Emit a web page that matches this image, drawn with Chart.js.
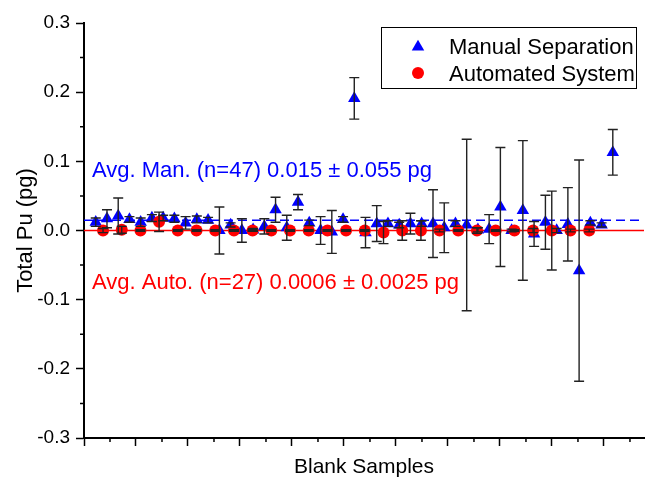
<!DOCTYPE html>
<html>
<head>
<meta charset="utf-8">
<title>Total Pu in blank samples</title>
<script src="https://cdn.jsdelivr.net/npm/chart.js@4.4.1/dist/chart.umd.min.js"></script>
<style>
  html, body { margin: 0; padding: 0; background: #fff; }
  #wrap { width: 645px; height: 478px; }
</style>
</head>
<body>
<div id="wrap"><canvas id="chart" width="645" height="478"></canvas></div>
<script>
// Manual separation blanks (blue triangles)
const manualX = [1.13, 2.21, 3.29, 4.37, 5.45, 6.53, 7.61, 8.69, 9.77, 10.85,
  11.93, 13.02, 14.10, 15.18, 16.26, 17.34, 18.42, 19.50, 20.58, 21.66,
  22.75, 23.83, 24.91, 25.99, 27.07, 28.15, 29.23, 30.31, 31.39, 32.47,
  33.56, 34.64, 35.72, 36.80, 37.88, 38.96, 40.04, 41.12, 42.20, 43.28,
  44.37, 45.45, 46.53, 47.61, 48.69, 49.77, 50.85];
const manualVals = [0.012, 0.017, 0.021, 0.016, 0.012, 0.018, 0.018, 0.017, 0.011, 0.016,
  0.015, 0.000, 0.008, 0.000, 0.001, 0.006, 0.030, 0.004, 0.041, 0.011,
  0.000, -0.002, 0.016, 0.191, -0.003, 0.010, 0.010, 0.008, 0.010, 0.010,
  0.010, 0.004, 0.010, 0.008, 0.001, 0.002, 0.034, 0.000, 0.029, -0.005,
  0.012, 0.000, 0.009, -0.058, 0.011, 0.008, 0.113];
const manualErr = [0.006, 0.013, 0.026, 0.004, 0.006, 0.005, 0.004, 0.005, 0.009, 0.005,
  0.004, 0.034, 0.003, 0.017, 0.002, 0.011, 0.018, 0.018, 0.011, 0.004,
  0.020, 0.031, 0.004, 0.030, 0.022, 0.026, 0.004, 0.004, 0.015, 0.004,
  0.049, 0.036, 0.004, 0.124, 0.003, 0.021, 0.086, 0.002, 0.101, 0.018,
  0.039, 0.003, 0.053, 0.160, 0.003, 0.003, 0.033];

// Automated system blanks (red circles)
const autoX = [1.83, 3.63, 5.43, 7.22, 9.02, 10.82, 12.62, 14.42, 16.21, 18.01,
  19.81, 21.61, 23.41, 25.20, 27.00, 28.80, 30.60, 32.40, 34.19, 35.99,
  37.79, 39.59, 41.39, 43.18, 44.98, 46.78, 48.58];
const autoVals = [0.000, 0.001, 0.000, 0.0125, 0.000, 0.000, 0.000, 0.000, 0.000, 0.000,
  0.000, 0.000, 0.000, 0.000, 0.000, -0.003, 0.000, 0.000, 0.000, 0.000,
  0.000, 0.000, 0.000, 0.000, 0.000, 0.000, 0.000];
const autoErr = [0.003, 0.005, 0.001, 0.014, 0.001, 0.001, 0.001, 0.001, 0.001, 0.001,
  0.001, 0.001, 0.001, 0.001, 0.001, 0.016, 0.014, 0.014, 0.002, 0.001,
  0.004, 0.001, 0.001, 0.003, 0.057, 0.002, 0.002];

const avgManual = 0.015;
const avgAuto = 0.0006;
const xRange = [0, 53.85];
const yRange = [-0.3, 0.3];
const xTickStep = 5;
const yTickStep = 0.1;

const legendLabels = ['Manual Separation', 'Automated System'];
const noteManual = 'Avg. Man. (n=47) 0.015 \u00b1 0.055 pg';
const noteAuto = 'Avg. Auto. (n=27) 0.0006 \u00b1 0.0025 pg';
const yTitle = 'Total Pu (pg)';
const xTitle = 'Blank Samples';

const FONT = '"Liberation Sans", Arial, sans-serif';
const BLUE = '#0000ff';
const RED = '#ff0000';
const TRI_R = 7.2;
const DOT_R = 6;

function triangle(ctx, x, y, r) {
  ctx.beginPath();
  ctx.moveTo(x, y - r);
  ctx.lineTo(x + r * 0.866, y + r * 0.5);
  ctx.lineTo(x - r * 0.866, y + r * 0.5);
  ctx.closePath();
  ctx.fill();
}

// short ticks half way between the major ones
const minorTicks = {
  id: 'minorTicks',
  afterDraw(chart) {
    const { ctx, chartArea, scales: { x, y } } = chart;
    ctx.save();
    ctx.strokeStyle = '#000';
    ctx.lineWidth = 1.5;
    ctx.beginPath();
    for (let v = yRange[0] + yTickStep / 2; v < yRange[1]; v += yTickStep) {
      const py = y.getPixelForValue(v);
      ctx.moveTo(chartArea.left - 4, py);
      ctx.lineTo(chartArea.left, py);
    }
    for (let v = xRange[0] + xTickStep / 2; v < xRange[1]; v += xTickStep) {
      const px = x.getPixelForValue(v);
      ctx.moveTo(px, chartArea.bottom);
      ctx.lineTo(px, chartArea.bottom + 4);
    }
    ctx.stroke();
    ctx.restore();
  }
};

const errorBars = {
  id: 'errorBars',
  afterDatasetsDraw(chart) {
    const { ctx, scales: { x, y } } = chart;
    ctx.save();
    ctx.strokeStyle = '#222';
    ctx.lineWidth = 1.4;
    [[manualX, manualVals, manualErr], [autoX, autoVals, autoErr]].forEach(([xs, vals, errs]) => {
      xs.forEach((xv, i) => {
        const px = x.getPixelForValue(xv);
        const top = y.getPixelForValue(vals[i] + errs[i]);
        const bot = y.getPixelForValue(vals[i] - errs[i]);
        ctx.beginPath();
        ctx.moveTo(px, top); ctx.lineTo(px, bot);
        ctx.moveTo(px - 5, top); ctx.lineTo(px + 5, top);
        ctx.moveTo(px - 5, bot); ctx.lineTo(px + 5, bot);
        ctx.stroke();
      });
    });
    ctx.restore();
  }
};

const labels = {
  id: 'labels',
  afterDraw(chart) {
    const { ctx, chartArea } = chart;
    ctx.save();
    ctx.textBaseline = 'alphabetic';
    ctx.textAlign = 'left';

    // notes with the averages
    ctx.font = '22px ' + FONT;
    ctx.fillStyle = BLUE;
    ctx.fillText(noteManual, 92, 177);
    ctx.fillStyle = RED;
    ctx.fillText(noteAuto, 92, 289);

    // legend box
    ctx.strokeStyle = '#000';
    ctx.lineWidth = 1;
    ctx.strokeRect(381.5, 27.5, 255, 61);
    ctx.fillStyle = BLUE;
    triangle(ctx, 418, 47, TRI_R);
    ctx.fillStyle = RED;
    ctx.beginPath();
    ctx.arc(418, 73, DOT_R, 0, Math.PI * 2);
    ctx.fill();
    ctx.fillStyle = '#000';
    ctx.fillText(legendLabels[0], 449, 54);
    ctx.fillText(legendLabels[1], 449, 81);

    // axis titles, centred on their axes
    ctx.font = '21px ' + FONT;
    ctx.textAlign = 'center';
    ctx.fillText(xTitle, (chartArea.left + chartArea.right) / 2, 473);
    ctx.translate(32, (chartArea.top + chartArea.bottom) / 2);
    ctx.rotate(-Math.PI / 2);
    ctx.font = '22px ' + FONT;
    ctx.fillText(yTitle, 0, 0);
    ctx.restore();
  }
};

const lineEnds = v => [{ x: xRange[0], y: v }, { x: xRange[1], y: v }];

new Chart(document.getElementById('chart'), {
  type: 'scatter',
  data: {
    datasets: [
      {
        label: legendLabels[1],
        data: autoX.map((x, i) => ({ x: x, y: autoVals[i] })),
        pointStyle: 'circle',
        pointRadius: DOT_R,
        pointBackgroundColor: RED,
        pointBorderWidth: 0,
        order: 1
      },
      {
        label: legendLabels[0],
        data: manualX.map((x, i) => ({ x: x, y: manualVals[i] })),
        pointStyle: 'triangle',
        pointRadius: TRI_R,
        pointBackgroundColor: BLUE,
        pointBorderWidth: 0,
        order: 2
      },
      {
        label: 'avg manual',
        data: lineEnds(avgManual),
        showLine: true,
        borderColor: BLUE,
        borderWidth: 1.5,
        borderDash: [9, 5],
        pointRadius: 0,
        order: 3
      },
      {
        label: 'avg auto',
        data: lineEnds(0),
        showLine: true,
        borderColor: RED,
        borderWidth: 1.5,
        pointRadius: 0,
        order: 4
      }
    ]
  },
  options: {
    responsive: false,
    animation: false,
    layout: { padding: { top: 23, right: 1, left: 0, bottom: 0 }, autoPadding: false },
    plugins: {
      legend: { display: false },
      tooltip: { enabled: false }
    },
    scales: {
      x: {
        type: 'linear',
        position: 'bottom',
        min: xRange[0],
        max: xRange[1],
        afterFit: s => { s.height = 40; },
        ticks: { display: false, stepSize: xTickStep, includeBounds: false },
        grid: { drawOnChartArea: false, drawTicks: true, tickLength: 8, tickColor: '#000', tickWidth: 1.5 },
        border: { display: true, color: '#000', width: 2 }
      },
      y: {
        min: yRange[0],
        max: yRange[1],
        afterFit: s => { s.width = 84; },
        ticks: {
          stepSize: yTickStep,
          padding: 6,
          color: '#000',
          font: { family: FONT, size: 19 },
          callback: v => Math.abs(v) < 1e-9 ? '0.0' : Number(v).toFixed(1)
        },
        grid: { drawOnChartArea: false, drawTicks: true, tickLength: 8, tickColor: '#000', tickWidth: 1.5 },
        border: { display: true, color: '#000', width: 2 }
      }
    }
  },
  plugins: [errorBars, minorTicks, labels]
});
</script>
</body>
</html>
